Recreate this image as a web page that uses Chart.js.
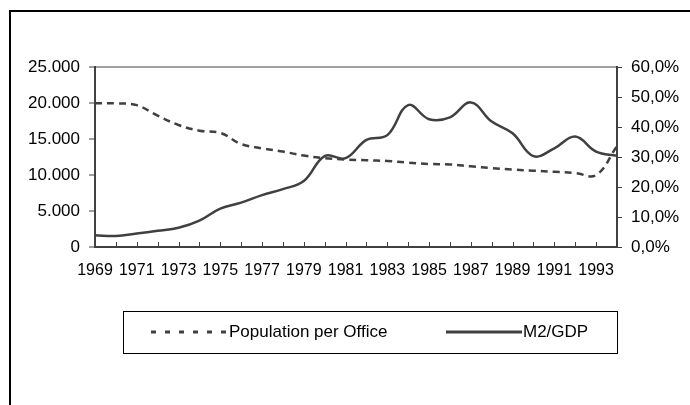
<!DOCTYPE html>
<html>
<head>
<meta charset="utf-8">
<script src="https://cdn.jsdelivr.net/npm/chart.js@4/dist/chart.umd.min.js"></script>
<style>
  html, body { margin: 0; padding: 0; background: #fff; overflow: hidden; }
  #wrap { position: relative; width: 690px; height: 405px; }
  #frame { position: absolute; left: 9px; top: 10px; width: 700px; height: 420px;
           border-left: 2px solid #000; border-top: 2px solid #000; }
  canvas { position: absolute; left: 0; top: 0; }
</style>
</head>
<body>
<div id="wrap">
  <div id="frame"></div>
  <canvas id="chart" width="690" height="405"></canvas>
</div>
<script>
// data
const years = [
  "1969", "1970", "1971", "1972", "1973", "1974", "1975", "1976", "1977",
  "1978", "1979", "1980", "1981", "1982", "1983", "1984", "1985", "1986",
  "1987", "1988", "1989", "1990", "1991", "1992", "1993", "1994",
];
const populationPerOffice = [
  19980, 19950, 19700, 18250, 16950, 16150, 15850, 14300, 13700,
  13250, 12700, 12350, 12150, 12050, 11950, 11720, 11530, 11470,
  11200, 10950, 10750, 10600, 10450, 10280, 10000, 14000,
];
const m2Gdp = [
  3.9, 3.7, 4.5, 5.4, 6.4, 8.8, 12.8, 14.8, 17.3,
  19.3, 22.0, 30.3, 29.6, 35.7, 37.3, 47.3, 42.6, 43.2,
  48.2, 41.8, 37.9, 30.3, 32.9, 36.8, 31.8, 30.4,
];
const leftTicks = { min: 0, max: 25000, step: 5000 };
const rightTicks = { min: 0, max: 60, step: 10 };

const ink = "#404040";
Chart.defaults.font.family = "'Liberation Sans', Arial, sans-serif";
Chart.defaults.font.size = 16;
Chart.defaults.color = "#000";

// small inward tick marks on the category axis
const innerTicks = {
  id: "innerTicks",
  afterDraw(chart) {
    const x = chart.scales.x;
    const ctx = chart.ctx;
    const bottom = chart.chartArea.bottom;
    ctx.save();
    ctx.strokeStyle = ink;
    ctx.lineWidth = 1;
    ctx.beginPath();
    for (let i = 0; i < years.length; i++) {
      const px = Math.round(x.getPixelForValue(i)) + 0.5;
      ctx.moveTo(px, bottom);
      ctx.lineTo(px, bottom - 5);
    }
    ctx.stroke();
    ctx.restore();
  },
};

// boxed legend under the axis
const boxLegend = {
  id: "boxLegend",
  afterDraw(chart) {
    const ctx = chart.ctx;
    const box = { left: 123, top: 311, right: 617, bottom: 353 };
    const cy = 332;
    ctx.save();
    ctx.strokeStyle = "#000";
    ctx.lineWidth = 1;
    ctx.strokeRect(box.left + 0.5, box.top + 0.5, box.right - box.left, box.bottom - box.top);

    const items = [
      { ds: chart.data.datasets[0], x0: 151, x1: 228, dash: [5, 9] },
      { ds: chart.data.datasets[1], x0: 446, x1: 522, dash: [] },
    ];
    ctx.font = "17px 'Liberation Sans', Arial, sans-serif";
    ctx.textBaseline = "middle";
    ctx.fillStyle = "#000";
    items.forEach(it => {
      ctx.strokeStyle = it.ds.borderColor;
      ctx.lineWidth = 3;
      ctx.setLineDash(it.dash);
      ctx.beginPath();
      ctx.moveTo(it.x0, cy);
      ctx.lineTo(it.x1, cy);
      ctx.stroke();
      ctx.setLineDash([]);
      ctx.fillText(it.ds.label, it.x1 + 1, cy);
    });
    ctx.restore();
  },
};

new Chart(document.getElementById("chart"), {
  type: "line",
  data: {
    labels: years,
    datasets: [
      {
        label: "Population per Office",
        data: populationPerOffice,
        yAxisID: "y",
        borderColor: ink,
        borderWidth: 2.5,
        borderDash: [7, 5],
        tension: 0.4,
        pointRadius: 0,
        fill: false,
      },
      {
        label: "M2/GDP",
        data: m2Gdp,
        yAxisID: "y1",
        borderColor: ink,
        borderWidth: 2.5,
        tension: 0.4,
        pointRadius: 0,
        fill: false,
      },
    ],
  },
  options: {
    responsive: false,
    animation: false,
    devicePixelRatio: 1,
    layout: { padding: { left: 0, right: 0, top: 67, bottom: 128 } },
    plugins: { legend: { display: false }, tooltip: { enabled: false } },
    scales: {
      x: {
        type: "category",
        offset: false,
        grid: { display: false, drawTicks: false },
        border: { display: true, color: ink, width: 2 },
        ticks: {
          autoSkip: false,
          maxRotation: 0,
          padding: 14,
          callback: (v, i) => (i % 2 === 0 ? years[i] : ""),
        },
        afterFit: s => { s.height = 30; },
      },
      y: {
        position: "left",
        min: leftTicks.min,
        max: leftTicks.max,
        grid: {
          drawOnChartArea: true,
          color: c => (c.tick && c.tick.value === leftTicks.max ? "#a0a0a0" : "rgba(0,0,0,0)"),
          lineWidth: 2,
          tickColor: ink,
          tickLength: 6,
          tickWidth: 1,
        },
        border: { display: true, color: ink, width: 2 },
        ticks: {
          stepSize: leftTicks.step,
          padding: 9,
          font: { size: 17 },
          callback: v => v.toLocaleString("de-DE"),
        },
        afterFit: s => { s.width = 95; },
      },
      y1: {
        position: "right",
        min: rightTicks.min,
        max: rightTicks.max,
        grid: { drawOnChartArea: false, tickColor: ink, tickLength: 5, tickWidth: 1 },
        border: { display: true, color: ink, width: 2 },
        ticks: {
          stepSize: rightTicks.step,
          padding: 9,
          font: { size: 17 },
          callback: v => v.toFixed(1).replace(".", ",") + "%",
        },
        afterFit: s => { s.width = 73; },
      },
    },
  },
  plugins: [innerTicks, boxLegend],
});
</script>
</body>
</html>
